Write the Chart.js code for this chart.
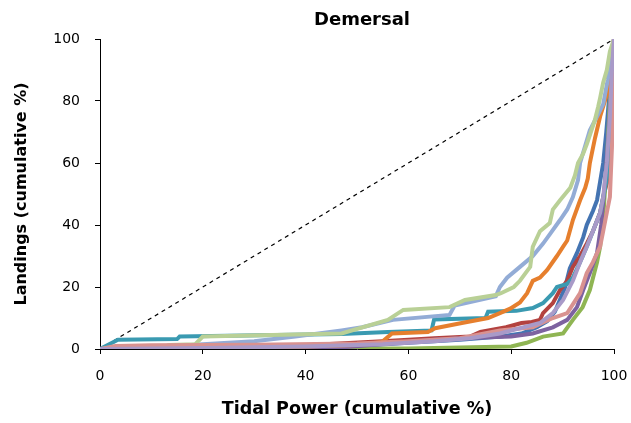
<!DOCTYPE html>
<html>
<head>
<meta charset="utf-8">
<script src="https://cdn.jsdelivr.net/npm/chart.js@4.4.1/dist/chart.umd.min.js"></script>
<style>
html,body{margin:0;padding:0;background:#fff;}
#wrap{width:631px;height:423px;position:relative;}
</style>
</head>
<body>
<div id="wrap"><canvas id="c" width="631" height="423"></canvas></div>
<script>
// ---- Data (cumulative %) ----
const chartTitle = "Demersal";
const xTitle = "Tidal Power (cumulative %)";
const yTitle = "Landings (cumulative %)";
const tickValues = [0, 20, 40, 60, 80, 100];

const lavenderX = [0, 20, 40, 55, 65, 72, 77.8, 85.6, 88.1, 90.1, 92, 93.4, 94.7, 95.9, 97.3, 97.9, 98.6, 99.2, 99.6, 100];
const lavenderY = [0, 0.3, 0.8, 1.5, 2.5, 3.5, 5, 8.4, 11.6, 15.8, 22, 28, 33, 38, 44, 49, 60, 75, 90, 100];

const pinkX = [0, 3, 10, 30, 50, 60, 70, 77.8, 84.2, 88.1, 90.9, 93.4, 94.7, 95.9, 97.3, 97.9, 98.6, 99.2, 99.6, 99.8, 100];
const pinkY = [0, 1, 1.2, 1.4, 1.8, 2.5, 3.5, 6, 7, 10, 11.6, 18, 24.5, 28, 33, 38, 44, 49, 65, 80, 100];

const lightGreenX = [0, 12, 13.5, 18.5, 20, 47, 56, 59, 68, 71, 77, 78, 80.5, 81.7, 83.7, 84.2, 85.6, 87.5, 88.1, 89.5, 90.5, 91.5, 92.4, 93, 94, 94.7, 95.5, 96.3, 96.9, 97.3, 97.9, 98.6, 99.2, 100];
const lightGreenY = [0, 0.5, 1.3, 1.5, 4, 5, 9.4, 12.6, 13.5, 15.8, 17.4, 18, 20, 22, 26.5, 33, 38, 40.6, 45, 48, 50, 52, 56, 60, 63, 66, 70, 74, 78, 81, 86, 90, 96, 100];

const lightBlueX = [0, 10, 20, 30, 38, 47, 51, 57, 68, 69, 77, 77.8, 79.2, 81.7, 84.2, 86.2, 87.5, 89.5, 90.9, 92, 93, 93.4, 95.3, 96.7, 97.9, 98.8, 99.6, 100];
const lightBlueY = [0, 0.5, 1.5, 2.5, 4, 6, 7, 9.4, 11, 14, 17, 20, 23, 26.5, 30, 34, 37, 41.6, 45, 49, 54.5, 60, 70.6, 75, 79, 87, 96, 100];

const orangeX = [0, 20, 40, 50, 54.9, 56.8, 63.8, 65.2, 70.4, 75.5, 77.8, 79.8, 81.7, 83.1, 84.2, 85.6, 87, 88.9, 90.1, 90.9, 92, 93.4, 94.4, 94.9, 95.3, 96.3, 97.3, 98.6, 99.2, 99.6, 100];
const orangeY = [0, 0.3, 0.8, 1.3, 2.3, 5, 5.5, 6.7, 8.4, 10, 11.6, 13, 15, 18, 22, 23, 25.5, 30, 33, 35, 41.6, 48, 52, 55, 60, 68, 75, 82, 89, 96, 100];

const tealX = [0, 3.5, 15, 15.5, 47, 56, 64.5, 65, 75, 75.5, 81, 84.2, 86.2, 88.1, 88.9, 90.9, 92, 93.4, 94.7, 95.9, 97.3, 97.9, 98.6, 99.4, 100];
const tealY = [0, 3, 3.2, 4, 4.8, 5.5, 6, 9.5, 10, 12, 12.3, 13.2, 14.8, 18, 20, 21, 23, 28, 33, 38, 44, 49, 55, 75, 100];

const purpleX = [0, 47, 65, 70, 80, 84.2, 88.1, 90.9, 92.8, 94, 95.3, 96.7, 97.5, 98.3, 99, 99.5, 100];
const purpleY = [0, 0.5, 3, 3.5, 4, 5, 7, 9.4, 13.5, 19, 24.5, 31, 40, 55, 70, 85, 100];

const greenX = [0, 60, 80, 83, 86.2, 90.1, 92, 93.9, 95.3, 96.7, 97.3, 98, 98.6, 99.2, 99.6, 100];
const greenY = [0, 0.2, 0.8, 2, 4, 5, 9.4, 13.5, 19, 28, 33, 45, 60, 80, 90, 100];

const redX = [0, 20, 40, 55, 65, 72, 74, 79, 82, 84, 85.6, 86.2, 88.1, 89.5, 90.9, 92, 93.4, 94.7, 95.9, 97.3, 97.9, 98.6, 99.2, 99.6, 100];
const redY = [0, 0.5, 1.2, 2.5, 3.5, 4, 5.5, 7, 8.4, 8.7, 9.4, 11.6, 14.8, 19, 22, 26.5, 30, 34, 38, 44, 49, 53.5, 70, 85, 100];

const darkBlueX = [0, 30, 50, 60, 70, 78, 82, 85, 87, 88.5, 89.5, 90.5, 91.4, 92.8, 94, 94.7, 95.9, 96.7, 97.3, 97.9, 98.5, 99, 99.5, 100];
const darkBlueY = [0, 0.3, 1, 2, 3, 4, 5, 7, 9, 12, 16, 20, 26, 31, 36, 40, 44.5, 48, 54, 60, 70, 80, 90, 100];

const diagX = [0, 100];
const diagY = [0, 100];

function pts(xs, ys) { return xs.map((x, i) => ({x: x, y: ys[i]})); }

const series = [
  {name: "S10", xs: lavenderX, ys: lavenderY, color: "#A99AC8"},
  {name: "S8", xs: pinkX, ys: pinkY, color: "#D99290"},
  {name: "S9", xs: lightGreenX, ys: lightGreenY, color: "#B9D096"},
  {name: "S7", xs: lightBlueX, ys: lightBlueY, color: "#93ACD6"},
  {name: "S6", xs: orangeX, ys: orangeY, color: "#E67F2D"},
  {name: "S5", xs: tealX, ys: tealY, color: "#3A9AB1"},
  {name: "S4", xs: purpleX, ys: purpleY, color: "#7D62A0"},
  {name: "S3", xs: greenX, ys: greenY, color: "#8FB553"},
  {name: "S2", xs: redX, ys: redY, color: "#B3423F"},
  {name: "S1", xs: darkBlueX, ys: darkBlueY, color: "#4474B2"}
];

const datasets = series.map(s => ({
  label: s.name,
  data: pts(s.xs, s.ys),
  borderColor: s.color,
  backgroundColor: s.color,
  borderWidth: 4,
  pointRadius: 0,
  tension: 0,
  fill: false
}));
datasets.push({
  label: "1:1",
  data: pts(diagX, diagY),
  borderColor: "#000",
  borderWidth: 1.2,
  borderDash: [4, 4],
  pointRadius: 0,
  fill: false
});

const titlePlugin = {
  id: 'topTitle',
  afterDraw(chart) {
    const ctx = chart.ctx;
    ctx.save();
    ctx.font = "bold 18px 'DejaVu Sans'";
    ctx.fillStyle = "#000";
    ctx.textAlign = "center";
    ctx.textBaseline = "middle";
    ctx.fillText(chartTitle, 362, 20);
    ctx.restore();
  }
};

new Chart(document.getElementById('c'), {
  type: 'line',
  data: {datasets: datasets},
  options: {
    responsive: false,
    animation: false,
    events: [],
    layout: {padding: {top: 39, right: 17, left: 0, bottom: 0}},
    plugins: {legend: {display: false}, tooltip: {enabled: false}, title: {display: false}},
    scales: {
      x: {
        type: 'linear', min: 0, max: 100,
        afterBuildTicks: s => { s.ticks = tickValues.map(v => ({value: v})); },
        afterFit: s => { s.height = 74; s.paddingLeft = 0; s.paddingRight = 0; },
        grid: {display: true, drawOnChartArea: false, drawTicks: true, tickLength: 5, color: '#000', lineWidth: 1},
        border: {display: true, color: '#000', width: 1},
        ticks: {color: '#000', font: {family: "'DejaVu Sans'", size: 14}, padding: 14, maxRotation: 0},
        title: {display: true, text: xTitle, color: '#000', font: {family: "'DejaVu Sans'", size: 17.5, weight: 'bold'}, padding: {top: 0, bottom: 3}}
      },
      y: {
        type: 'linear', min: 0, max: 100,
        afterBuildTicks: s => { s.ticks = tickValues.map(v => ({value: v})); },
        afterFit: s => { s.width = 100; s.paddingTop = 0; s.paddingBottom = 0; },
        grid: {display: true, drawOnChartArea: false, drawTicks: true, tickLength: 5, color: '#000', lineWidth: 1},
        border: {display: true, color: '#000', width: 1},
        ticks: {color: '#000', font: {family: "'DejaVu Sans'", size: 14}, padding: 15},
        title: {display: true, text: yTitle, color: '#000', font: {family: "'DejaVu Sans'", size: 16, weight: 'bold'}, padding: {top: 12, bottom: 0}}
      }
    }
  },
  plugins: [titlePlugin]
});
</script>
</body>
</html>
